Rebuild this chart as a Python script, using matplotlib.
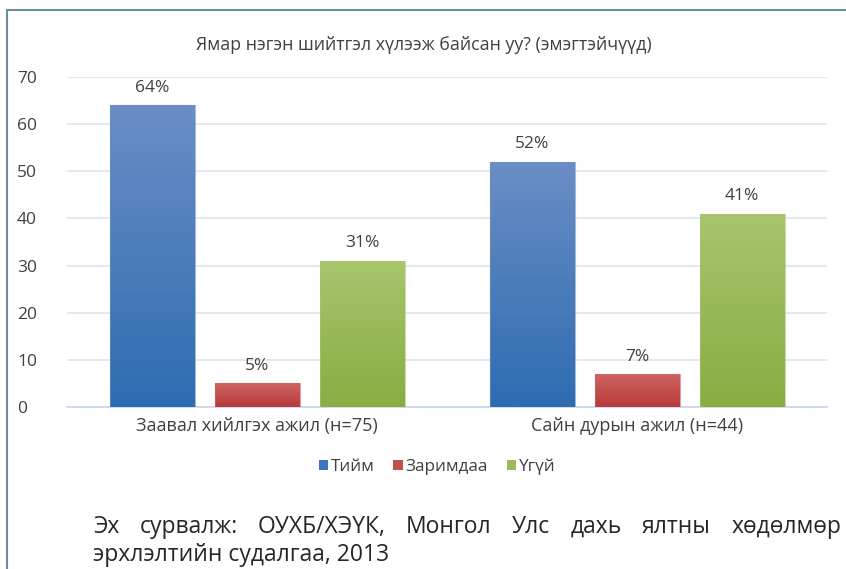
import numpy as np
import matplotlib
matplotlib.use('Agg')
import matplotlib.pyplot as plt
from matplotlib.lines import Line2D
from matplotlib.patches import Patch
from matplotlib.colors import LinearSegmentedColormap

plt.rcParams['font.family'] = ['Open Sans', 'DejaVu Sans']

# data
categories = ['Заавал хийлгэх ажил (н=75)', 'Сайн дурын ажил (н=44)']
series = ['Тийм', 'Заримдаа', 'Үгүй']
values = {
    'Тийм': [64, 52],
    'Заримдаа': [5, 7],
    'Үгүй': [31, 41],
}
title = 'Ямар нэгэн шийтгэл хүлээж байсан уу? (эмэгтэйчүүд)'
source_line1 = ['Эх', 'сурвалж:', 'ОУХБ/ХЭҮК,', 'Монгол', 'Улс', 'дахь', 'ялтны', 'хөдөлмөр']
source_line2 = 'эрхлэлтийн судалгаа, 2013'

# top/bottom gradient colours per series
grad = {
    'Тийм': ('#6a8ec5', '#2e6cb1'),
    'Заримдаа': ('#cd6664', '#b8393a'),
    'Үгүй': ('#a8c56d', '#89ad43'),
}
solid = {'Тийм': '#3a75bd', 'Заримдаа': '#c0504d', 'Үгүй': '#9bbb59'}

W, H = 846, 569
fig = plt.figure(figsize=(W / 100, H / 100), dpi=100)
ax = fig.add_axes([67 / W, 1 - 407 / H, 760 / W, 330 / H])

x = np.arange(len(categories))
width = 85 / 380
step = 105 / 380

for i, s in enumerate(series):
    pos = x + (i - 1) * step
    bars = ax.bar(pos, values[s], width, color='none', edgecolor='none', zorder=3)
    cmap = LinearSegmentedColormap.from_list(s, [grad[s][1], grad[s][0]])
    for b, v in zip(bars, values[s]):
        x0 = b.get_x()
        img = ax.imshow(np.linspace(0, 1, 100).reshape(-1, 1), cmap=cmap,
                        extent=[x0, x0 + width, 0, v], origin='lower',
                        aspect='auto', zorder=3)
        img.set_clip_path(b)
        ax.bar(b.get_x() + width / 2, v, width, color='none',
               edgecolor=grad[s][0], linewidth=0.8, alpha=0.6, zorder=4)
        ax.annotate(f'{v}%', (b.get_x() + width / 2, v), xytext=(0, 12.5),
                    textcoords='offset points', ha='center', va='center',
                    fontsize=12.5, color='#404040')

ax.set_xlim(-0.5, 1.5)
ax.set_ylim(0, 70)
ax.set_yticks(range(0, 71, 10))
ax.set_xticks(x)
ax.set_xticklabels(categories, fontsize=13, color='#404040')
ax.tick_params(axis='x', length=0, pad=7)
ax.tick_params(axis='y', length=0, pad=36, labelsize=12.5, labelcolor='#404040')
for lab in ax.get_yticklabels():
    lab.set_ha('left')
ax.grid(axis='y', color='#dbe5f1', linewidth=1.2, zorder=0)
ax.set_axisbelow(True)
for sp in ['top', 'right', 'left']:
    ax.spines[sp].set_visible(False)
ax.spines['bottom'].set_color('#c6d5ea')
ax.spines['bottom'].set_linewidth(1.2)

fig.text(424 / W, 1 - 45 / H, title, ha='center', va='center',
         fontsize=12.8, color='#404040')

handles = [Patch(facecolor=solid[s], edgecolor='none') for s in series]
fig.legend(handles, series, loc='center', bbox_to_anchor=(437 / W, 1 - 467 / H),
           ncol=3, frameon=False, fontsize=12.3, handlelength=0.55,
           handleheight=0.55, handletextpad=0.15, columnspacing=1.1,
           labelcolor='#404040')

# frame lines at left and top
fig.add_artist(Line2D([7 / W, 7 / W], [0, 1 - 10 / H], color='#6b8e9b', linewidth=1.5))
fig.add_artist(Line2D([7 / W, 1], [1 - 10 / H, 1 - 10 / H], color='#6b8e9b', linewidth=1.5))

# justified source text
fig.canvas.draw()
r = fig.canvas.get_renderer()
left, right = 93, 841
y1 = 1 - 527 / H
words = [fig.text(0, y1, w, ha='left', va='center', fontsize=16.5, color='#262626')
         for w in source_line1]
widths = [t.get_window_extent(r).width for t in words]
gap = (right - left - sum(widths)) / (len(words) - 1)
xpos = left
for t, wd in zip(words, widths):
    t.set_x(xpos / W)
    xpos += wd + gap
fig.text(left / W, 1 - 555 / H, source_line2, ha='left', va='center',
         fontsize=16.5, color='#262626')

fig.savefig('out.png', dpi=100)
